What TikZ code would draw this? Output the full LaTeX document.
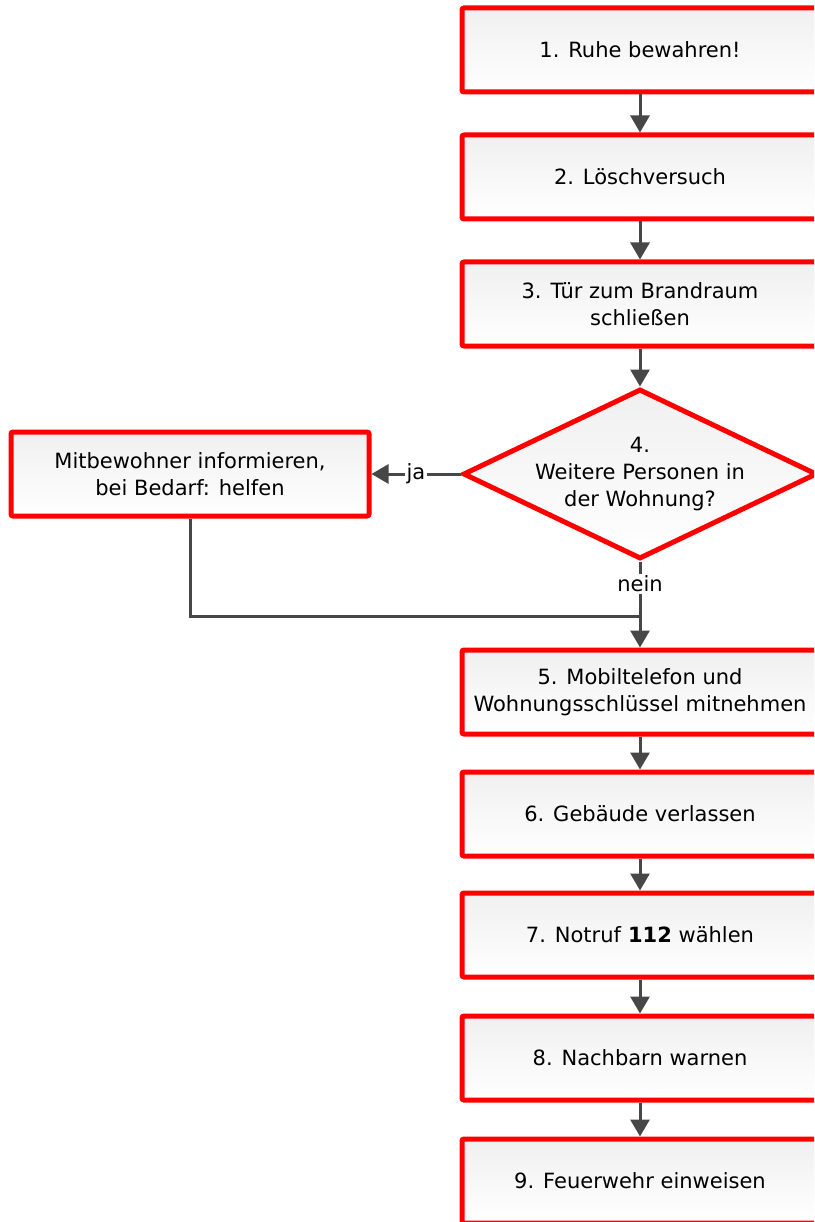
\documentclass[tikz,border=0pt]{standalone}
\usepackage{fontspec}
\setmainfont{DejaVu Sans}
\usetikzlibrary{positioning,shapes.geometric,arrows.meta}

\tikzset{
  stepbox/.style={draw=red,line width=5pt,rounded corners=2pt,
    minimum width=356pt,minimum height=84pt,inner sep=2pt,align=center,
    top color=gray!12,bottom color=white,font=\fontsize{21}{27}\selectfont},
  decision/.style={diamond,draw=red,line width=5pt,shape aspect=2,
    minimum width=354pt,minimum height=170pt,inner xsep=-16pt,inner ysep=0pt,align=center,
    top color=gray!12,bottom color=white,font=\fontsize{21}{27}\selectfont},
  conn/.style={draw=black!72,line width=3pt,-{Triangle[length=17pt,width=19pt]}},
  plain/.style={draw=black!72,line width=3pt},
  lbl/.style={fill=white,inner sep=2pt,font=\fontsize{21}{27}\selectfont}
}

\begin{document}
\begin{tikzpicture}[x=1pt,y=-1pt]
\useasboundingbox (0,0) rectangle (814,1222);
\clip (0,0) rectangle (814,1222);

% main column
\node[stepbox] (s1) at (640,50) {1. Ruhe bewahren!};
\node[stepbox] (s2) at (640,177) {2. Löschversuch};
\node[stepbox] (s3) at (640,304) {3. Tür zum Brandraum\\schließen};
\node[decision] (q4) at (640,474) {4.\\Weitere Personen in\\der Wohnung?};
\node[stepbox] (s5) at (640,692) {5. Mobiltelefon und\\Wohnungsschlüssel mitnehmen};
\node[stepbox] (s6) at (640,814) {6. Gebäude verlassen};
\node[stepbox] (s7) at (640,935) {7. Notruf \textbf{112} wählen};
\node[stepbox] (s8) at (640,1058) {8. Nachbarn warnen};
\node[stepbox] (s9) at (640,1181) {9. Feuerwehr einweisen};

% side branch
\node[stepbox,minimum width=358pt] (mb) at (190,474) {Mitbewohner informieren,\\bei Bedarf: helfen};
\coordinate (join) at (640,616);

\foreach \a/\b in {s1/s2,s2/s3,s3/q4,s5/s6,s6/s7,s7/s8,s8/s9}
  \draw[conn] (\a.south) -- (\b.north);

\draw[conn] (q4.west) -- node[lbl]{ja} (mb.east);
\draw[conn] (q4.south) -- node[lbl,pos=.26]{nein} (s5.north);
\draw[plain] (mb.south) |- (join);
\end{tikzpicture}
\end{document}
